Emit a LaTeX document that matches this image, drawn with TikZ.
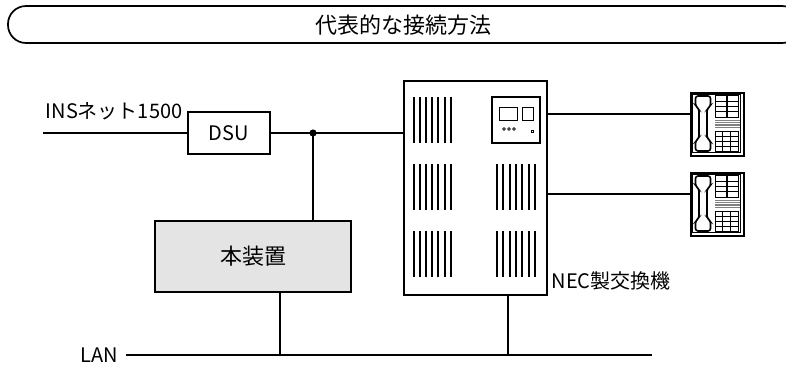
\documentclass[tikz,border=0pt]{standalone}
\usepackage{fontspec}
\setmainfont{Noto Sans CJK JP}
\usetikzlibrary{positioning}
\definecolor{boxgray}{RGB}{228,228,228}
\begin{document}
\begin{tikzpicture}[x=1pt, y=-1pt, line width=1.4pt,
  box/.style={draw, line width=1.7pt, inner sep=0pt},
  lbl/.style={font=\fontsize{20}{24}\selectfont, inner sep=0pt},
  big/.style={font=\fontsize{22}{26}\selectfont, inner sep=0pt},
  vent/.style={line width=2pt}]
\useasboundingbox (0,0) rectangle (786,365);
\clip (0,0) rectangle (786,365);
\draw[rounded corners=18pt, line width=1.7pt] (8,6) rectangle (800,43);
\node[big] (title) at (403,25) {代表的な接続方法};
\node[box, minimum width=143, minimum height=214, anchor=north west] (pbx) at (403,80) {};
\foreach \y in {97,164,231}
\foreach \i in {0,...,6}
\draw[vent] (414+6.1*\i,\y) -- +(0,46);
\foreach \y in {164,231}
\foreach \i in {0,...,6}
\draw[vent] (497+6.3*\i,\y) -- +(0,46);
\draw[line width=1.6pt] (492,97) rectangle (540,143);
\draw[line width=0.9pt] (499,107) rectangle (517,120);
\draw[line width=0.9pt] (522,107) rectangle (533,120);
\foreach \x in {504,509,514}
\draw[line width=0.7pt] (\x,129) circle (1.3);
\draw[line width=0.8pt] (531,130) rectangle (533,132);
\node[lbl, anchor=west] (neclbl) at (551,281) {NEC製交換機};
\node[box, minimum width=82, minimum height=42] (dsu) at (229,133) {\fontsize{20}{24}\selectfont DSU};
\node[lbl, anchor=west] (inslbl) at (45,111) {INSネット1500};
\node[box, fill=boxgray, minimum width=196, minimum height=71] (hon) at (253,256.5) {\fontsize{22}{26}\selectfont 本装置};
\coordinate (insend) at (43,133);
\coordinate (junc) at (313,133);
\draw (insend) -- (dsu);
\draw (dsu) -- (dsu -| pbx.west);
\fill (junc) circle (3.6pt);
\draw (junc) -- (junc |- hon.north);
\foreach \n/\y in {1/92,2/172} {
\node[box, minimum width=53, minimum height=63, anchor=north west] (phone\n) at (690,\y) {};
\coordinate (tel\n) at (690,\y+22);
\draw (tel\n -| pbx.east) -- (tel\n);
\begin{scope}[shift={(0,\y-92)}]
\draw[line width=0.8pt] (692.5,94.5) rectangle (740.5,152.5);
\draw[line width=1.6pt, rounded corners=2.5pt] (695.5,96) -- (710.5,96) -- (710.5,106) -- (707,109) -- (707,138) -- (710.5,141) -- (710.5,151) -- (695.5,151) -- (695.5,141) -- (699,138) -- (699,109) -- (695.5,106) -- cycle;
\foreach \x in {715,727}
\foreach \r in {0,...,3}
\draw[line width=0.8pt] (\x,95.5+5.4*\r) rectangle +(11,5.4);
\foreach \r in {0,...,4}
\draw[gray, line width=0.9pt] (715,120.5+1.8*\r) -- (740,120.5+1.8*\r);
\foreach \c in {0,...,2}
\foreach \r in {0,...,3}
\draw[line width=0.8pt] (715+7.7*\c,131+5*\r) rectangle +(7.7,5);
\end{scope}
}
\node[lbl, anchor=east] (lanlbl) at (119,355) {LAN};
\coordinate (lanend) at (652,355);
\coordinate (lanhon) at (280,355);
\coordinate (lanpbx) at (508,355);
\draw ([xshift=7pt]lanlbl.east) -- (lanend);
\draw (hon.south -| lanhon) -- (lanhon);
\draw (pbx.south -| lanpbx) -- (lanpbx);
\end{tikzpicture}
\end{document}
